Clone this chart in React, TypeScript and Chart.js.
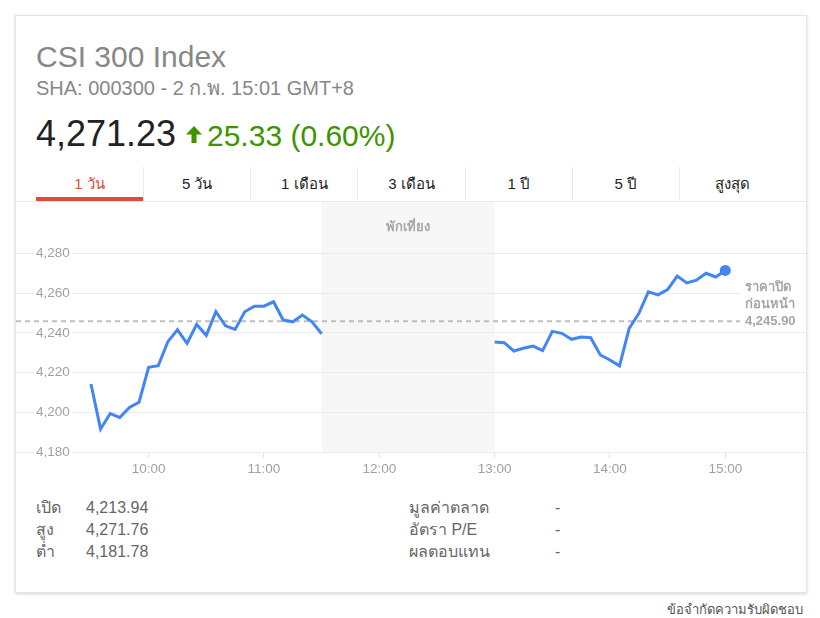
import React, { useEffect, useRef } from "react";
import { Chart, registerables } from "chart.js";

Chart.register(...registerables);

// ---------- data ----------
const title = "CSI 300 Index";
const subtitle = "SHA: 000300 - 2 ก.พ. 15:01 GMT+8";
const lastPrice = "4,271.23";
const changeText = "25.33 (0.60%)";
const tabs = ["1 วัน", "5 วัน", "1 เดือน", "3 เดือน", "1 ปี", "5 ปี", "สูงสุด"];

const morningStart = "09:30";
const afternoonStart = "13:00";
const stepMinutes = 5;
const morningValues = [
  4214.3, 4191.6, 4199.4, 4197.4, 4202.4, 4205.1, 4222.7, 4223.5, 4235.6, 4241.6,
  4234.8, 4244.3, 4238.8, 4250.7, 4243.6, 4241.8, 4250.7, 4253.5, 4253.5, 4255.7,
  4246.5, 4245.6, 4249.0, 4245.6, 4239.6,
];
const afternoonValues = [
  4235.4, 4235.1, 4230.9, 4232.3, 4233.4, 4231.1, 4240.8, 4239.8, 4236.8, 4237.9,
  4237.6, 4228.9, 4226.4, 4223.4, 4242.3, 4249.8, 4260.7, 4259.2, 4261.9, 4268.7,
  4265.2, 4266.6, 4270.1, 4268.2, 4271.5,
];
const prevClose = 4245.9;
const prevCloseLabel = ["ราคาปิด", "ก่อนหน้า", "4,245.90"];
const lunchBreak = ["11:30", "13:00"];
const lunchLabel = "พักเที่ยง";
const yTicks = [4180, 4200, 4220, 4240, 4260, 4280];
const yRange = [4180, 4306];
const xTicks = ["10:00", "11:00", "12:00", "13:00", "14:00", "15:00"];
const xRange = ["08:51", "15:42"];

const statLabelsLeft = ["เปิด", "สูง", "ต่ำ"];
const statValuesLeft = ["4,213.94", "4,271.76", "4,181.78"];
const statLabelsRight = ["มูลค่าตลาด", "อัตรา P/E", "ผลตอบแทน"];
const statValuesRight = ["-", "-", "-"];
const disclaimer = "ข้อจำกัดความรับผิดชอบ";

// ---------- helpers ----------
const toMin = (t: string) => {
  const [h, m] = t.split(":").map(Number);
  return h * 60 + m;
};
const fmtMin = (v: number) => {
  const h = Math.floor(v / 60);
  const m = Math.round(v - h * 60);
  return `${h}:${m.toString().padStart(2, "0")}`;
};

const FONT = "Arial, 'Liberation Sans', sans-serif";

function ChartBox() {
  const ref = useRef<HTMLCanvasElement | null>(null);
  useEffect(() => {
    if (!ref.current) return;
    const m0 = toMin(morningStart);
    const a0 = toMin(afternoonStart);
    const pts: { x: number; y: number | null }[] = [];
    morningValues.forEach((v, i) => pts.push({ x: m0 + i * stepMinutes, y: v }));
    pts.push({ x: (toMin(lunchBreak[0]) + toMin(lunchBreak[1])) / 2, y: null });
    afternoonValues.forEach((v, i) => pts.push({ x: a0 + i * stepMinutes, y: v }));
    const lastIdx = pts.length - 1;

    const overlay = {
      id: "overlay",
      beforeDraw(chart: any) {
        const { ctx, chartArea, scales } = chart;
        const x1 = scales.x.getPixelForValue(toMin(lunchBreak[0]));
        const x2 = scales.x.getPixelForValue(toMin(lunchBreak[1]));
        ctx.save();
        ctx.fillStyle = "#f7f7f7";
        ctx.fillRect(x1, chartArea.top, x2 - x1, chartArea.bottom - chartArea.top);
        ctx.restore();
      },
      beforeDatasetsDraw(chart: any) {
        const { ctx, chartArea, scales } = chart;
        const x1 = scales.x.getPixelForValue(toMin(lunchBreak[0]));
        const x2 = scales.x.getPixelForValue(toMin(lunchBreak[1]));
        ctx.save();
        ctx.font = `bold 13px ${FONT}`;
        ctx.fillStyle = "#a6a6a6";
        ctx.textAlign = "center";
        ctx.textBaseline = "middle";
        ctx.fillText(lunchLabel, (x1 + x2) / 2, chartArea.top + 25);
        const y = scales.y.getPixelForValue(prevClose);
        ctx.strokeStyle = "#bdbdbd";
        ctx.lineWidth = 2;
        ctx.setLineDash([5, 4]);
        ctx.beginPath();
        ctx.moveTo(chartArea.left, y);
        ctx.lineTo(chartArea.right - 66, y);
        ctx.stroke();
        ctx.restore();
      },
      afterDatasetsDraw(chart: any) {
        const { ctx, chartArea, scales } = chart;
        const y = scales.y.getPixelForValue(prevClose);
        const bx = chartArea.right - 65;
        ctx.save();
        ctx.fillStyle = "#ffffff";
        ctx.fillRect(bx, y - 46, chartArea.right - bx, 55);
        ctx.font = `bold 13px ${FONT}`;
        ctx.fillStyle = "#a6a6a6";
        ctx.textAlign = "left";
        ctx.textBaseline = "middle";
        const n = prevCloseLabel.length;
        prevCloseLabel.forEach((t, i) => {
          ctx.fillText(t, bx + 4, y - (n - 1 - i) * 17);
        });
        ctx.restore();
      },
    };

    const chart = new Chart(ref.current, {
      type: "line",
      data: {
        datasets: [
          {
            data: pts as any,
            borderColor: "#4285f4",
            backgroundColor: "#4285f4",
            borderWidth: 3,
            tension: 0,
            spanGaps: false,
            pointRadius: (c: any) => (c.dataIndex === lastIdx ? 5.5 : 0),
            pointHoverRadius: 0,
            pointBorderWidth: 0,
            fill: false,
            clip: false,
          },
        ],
      },
      options: {
        animation: false,
        responsive: false,
        layout: { padding: 0, autoPadding: false },
        plugins: { legend: { display: false }, tooltip: { enabled: false } },
        events: [],
        scales: {
          x: {
            type: "linear",
            min: toMin(xRange[0]),
            max: toMin(xRange[1]),
            afterBuildTicks: (s: any) => {
              s.ticks = xTicks.map((t) => ({ value: toMin(t) }));
            },
            afterFit: (s: any) => {
              s.height = 30;
              s.paddingLeft = 0;
              s.paddingRight = 0;
            },
            ticks: {
              callback: (v: any) => fmtMin(Number(v)),
              color: "#a0a0a0",
              font: { family: FONT, size: 13.5 },
              padding: 3,
              maxRotation: 0,
              autoSkip: false,
            },
            grid: {
              drawOnChartArea: false,
              drawTicks: true,
              tickLength: 6,
              tickColor: "#e3e3e3",
              color: "#e3e3e3",
            },
            border: { display: false },
          },
          y: {
            type: "linear",
            min: yRange[0],
            max: yRange[1],
            afterBuildTicks: (s: any) => {
              s.ticks = yTicks.map((v) => ({ value: v }));
            },
            afterFit: (s: any) => {
              s.width = 0;
              s.paddingTop = 0;
              s.paddingBottom = 0;
            },
            ticks: {
              mirror: true,
              padding: 20,
              color: "#a0a0a0",
              font: { family: FONT, size: 13.5 },
              callback: (v: any) => Number(v).toLocaleString("en-US"),
              showLabelBackdrop: true,
              backdropColor: "#ffffff",
              backdropPadding: { left: 3, right: 2, top: 1, bottom: 1 },
            },
            grid: { color: "#ebebeb", drawTicks: false, lineWidth: 1 },
            border: { display: false },
          },
        },
      } as any,
      plugins: [overlay],
    });
    return () => chart.destroy();
  }, []);
  return <canvas ref={ref} width={790} height={280} style={{ display: "block" }} />;
}

export default function App() {
  const tabW = 750 / 7;
  const abs = (o: React.CSSProperties): React.CSSProperties => ({ position: "absolute", ...o });
  const stat: React.CSSProperties = { fontSize: 16, lineHeight: "18px", color: "#666", whiteSpace: "nowrap" };
  return (
    <div style={abs({ left: 0, top: 0, width: 820, height: 618, fontFamily: FONT, background: "#fff" })}>
      <div
        style={abs({
          left: 15,
          top: 15,
          width: 792,
          height: 578,
          boxSizing: "border-box",
          border: "1px solid #e6e6e6",
          boxShadow: "0 1px 3px rgba(0,0,0,0.18)",
          background: "#fff",
        })}
      />
      <div style={abs({ left: 36, top: 42, fontSize: 30, lineHeight: 1, color: "#878787", whiteSpace: "nowrap" })}>{title}</div>
      <div style={abs({ left: 36, top: 78, fontSize: 20, lineHeight: 1, color: "#878787", whiteSpace: "nowrap" })}>{subtitle}</div>
      <div style={abs({ left: 36, top: 115.5, fontSize: 36, lineHeight: 1, color: "#222", whiteSpace: "nowrap" })}>{lastPrice}</div>
      <svg style={abs({ left: 186, top: 126 })} width={16} height={17} viewBox="0 0 16 17">
        <path d="M8 0 L16 8.5 L10.5 8.5 L10.5 17 L5.5 17 L5.5 8.5 L0 8.5 Z" fill="#3d9400" />
      </svg>
      <div style={abs({ left: 207, top: 121, fontSize: 30, lineHeight: 1, color: "#3d9400", whiteSpace: "nowrap" })}>{changeText}</div>

      {tabs.map((t, i) => (
        <div
          key={t}
          style={abs({
            left: 36 + i * tabW,
            top: 167,
            width: tabW,
            height: 33,
            boxSizing: "border-box",
            borderLeft: i === 0 ? "none" : "1px solid #ebebeb",
            display: "flex",
            alignItems: "center",
            justifyContent: "center",
            fontSize: 15,
            color: i === 0 ? "#dd4b39" : "#222",
            whiteSpace: "nowrap",
          })}
        >
          {t}
        </div>
      ))}
      <div style={abs({ left: 36, top: 197, width: tabW, height: 4, background: "#dd4b39" })} />
      <div style={abs({ left: 16, top: 201, width: 790, height: 1, background: "#ebebeb" })} />

      <div style={abs({ left: 16, top: 202, width: 790, height: 280 })}>
        <ChartBox />
      </div>

      {statLabelsLeft.map((t, i) => (
        <React.Fragment key={t}>
          <div style={abs({ left: 36, top: 499 + i * 22, ...stat })}>{t}</div>
          <div style={abs({ left: 86, top: 499 + i * 22, ...stat })}>{statValuesLeft[i]}</div>
          <div style={abs({ left: 409, top: 499 + i * 22, ...stat })}>{statLabelsRight[i]}</div>
          <div style={abs({ left: 555, top: 499 + i * 22, ...stat })}>{statValuesRight[i]}</div>
        </React.Fragment>
      ))}
      <div style={abs({ right: 17, top: 602, fontSize: 13, lineHeight: "16px", color: "#555", whiteSpace: "nowrap" })}>{disclaimer}</div>
    </div>
  );
}
